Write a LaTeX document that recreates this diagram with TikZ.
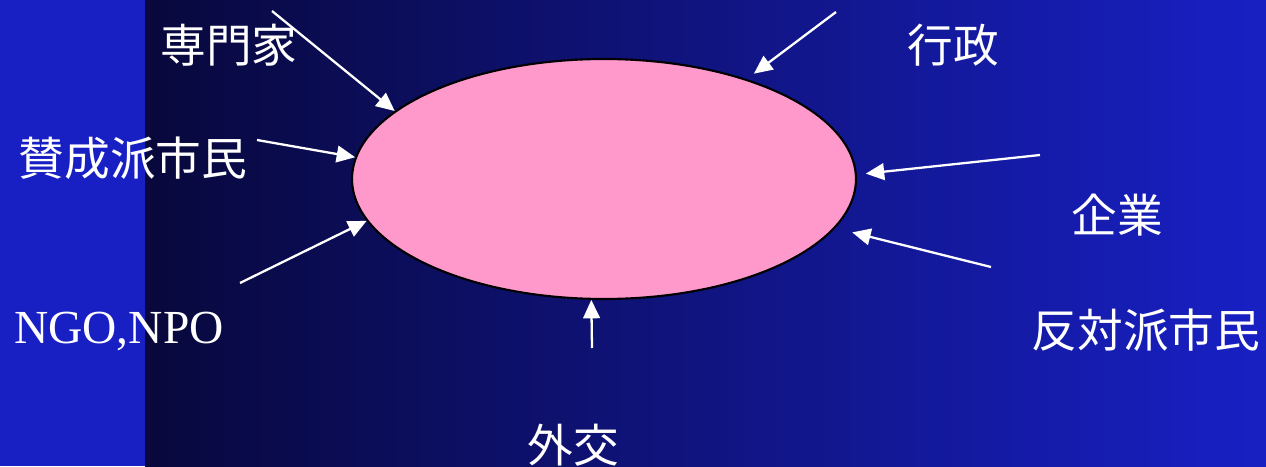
\documentclass[tikz,border=0pt]{standalone}
\usepackage{fontspec}
\newfontfamily\jpfont{Noto Sans CJK JP}
\newfontfamily\romanfont{Liberation Serif}
\usetikzlibrary{shapes.geometric,arrows.meta}
\definecolor{slideblue}{RGB}{24,32,196}
\definecolor{slidenavy}{RGB}{8,8,60}
\definecolor{ovalpink}{RGB}{255,153,204}
\begin{document}
\begin{tikzpicture}[x=0.02cm,y=-0.02cm,
    actor/.style={text=white,inner sep=0pt,font=\jpfont\fontsize{26}{30}\selectfont},
    push/.style={draw=white,line width=1.3pt,-{Triangle[length=10.5pt,width=9.5pt]}}]
    % Background: plain strip, then shaded part
    \useasboundingbox (0,0) rectangle (1266,466);
    \fill[slideblue] (0,0) rectangle (145,466);
    \shade[left color=slidenavy,right color=slideblue] (145,0) rectangle (1266,466);

    % Central oval
    \node[ellipse,draw=black,line width=1.2pt,fill=ovalpink,inner sep=0pt,
          minimum width=10.08cm,minimum height=4.8cm] (oval) at (604,179) {};

    % Actors round the oval
    \node[actor] (expert) at (229,45) {専門家};
    \node[actor] (pro) at (133,158) {賛成派市民};
    \node[text=white,inner sep=0pt,font=\romanfont\fontsize{27}{30}\selectfont] (ngo) at (119,331) {NGO,NPO};
    \node[actor] (diplomacy) at (573,445) {外交};
    \node[actor] (contra) at (1146,330) {反対派市民};
    \node[actor] (firm) at (1117,215) {企業};
    \node[actor] (admin) at (953,45) {行政};

    % Arrow tails
    \coordinate (expertTail) at (272,11);
    \coordinate (proTail) at (257,140);
    \coordinate (ngoTail) at (240,283);
    \coordinate (diplomacyTail) at (592,348);
    \coordinate (contraTail) at (991,267);
    \coordinate (firmTail) at (1040,155);
    \coordinate (adminTail) at (836,12);

    % Arrows into the oval
    \draw[push] (expertTail) -- (oval.162);
    \draw[push] (proTail) -- (oval.175);
    \draw[push] (ngoTail) -- (oval.190);
    \draw[push] (diplomacyTail) -- (oval.264);
    \draw[push,shorten >=0.35cm] (contraTail) -- (oval.-12.9);
    \draw[push,shorten >=0.18cm] (firmTail) -- (oval.1.4);
    \draw[push,shorten >=0.18cm] (adminTail) -- (oval.35.2);
\end{tikzpicture}
\end{document}
